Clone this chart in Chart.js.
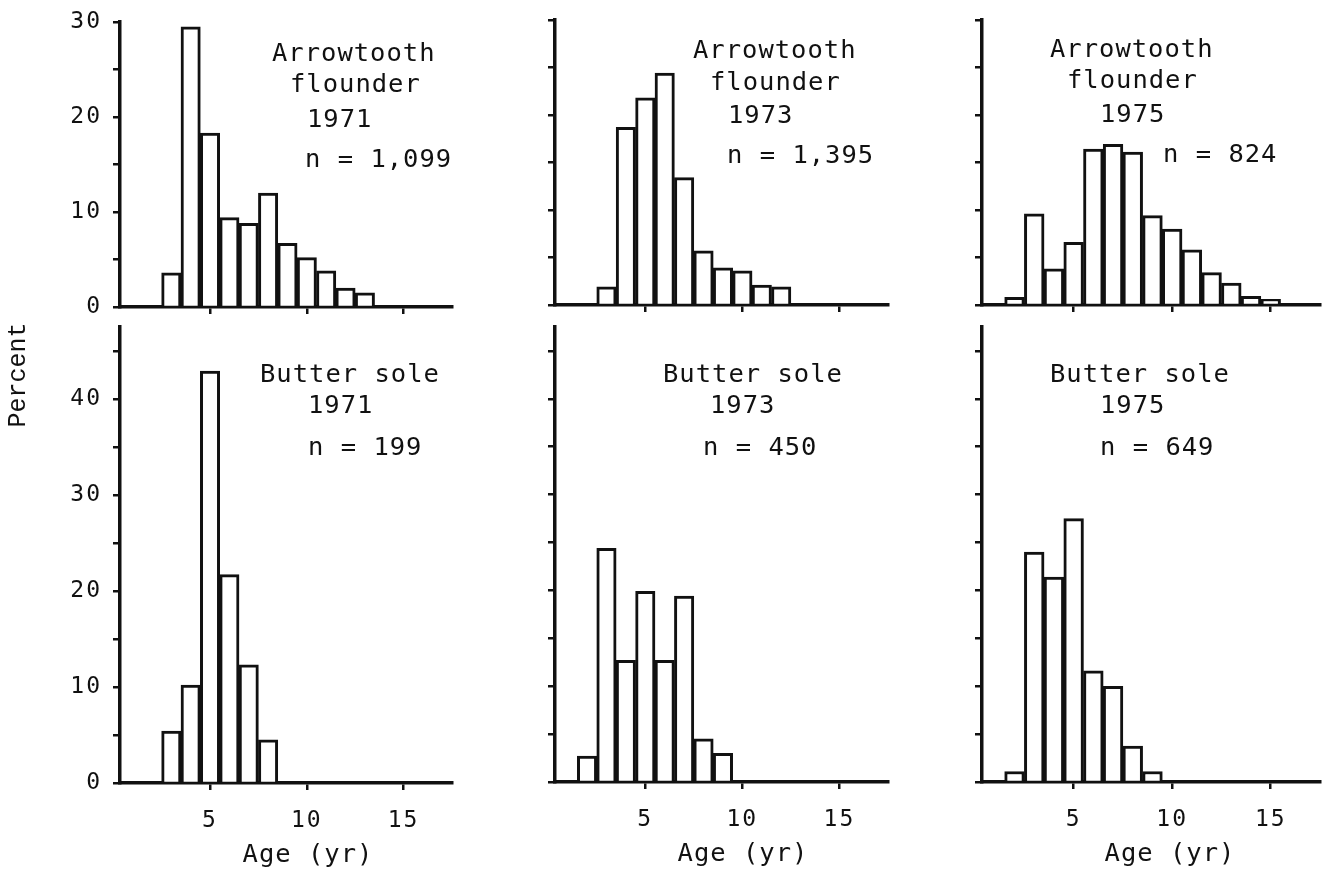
<!DOCTYPE html>
<html>
<head>
<meta charset="utf-8">
<title>Age composition - Arrowtooth flounder and Butter sole</title>
<script src="https://cdn.jsdelivr.net/npm/chart.js@4/dist/chart.umd.min.js"></script>
<style>
  body { margin: 0; background: #fff; }
  #page { position: relative; width: 1333px; height: 874px; overflow: hidden; }
  #page canvas { position: absolute; }
</style>
</head>
<body>
<div id="page"></div>
<script>
// age (yr) of each bar and percent of sample
var agesArrow1971 = [3, 4, 5, 6, 7, 8, 9, 10, 11, 12, 13];
var pctArrow1971 = [3.6, 29.5, 18.3, 9.4, 8.8, 12.0, 6.7, 5.2, 3.8, 2.0, 1.5];

var agesArrow1973 = [3, 4, 5, 6, 7, 8, 9, 10, 11, 12];
var pctArrow1973 = [1.9, 18.7, 21.8, 24.4, 13.4, 5.7, 3.9, 3.6, 2.1, 1.9];

var agesArrow1975 = [2, 3, 4, 5, 6, 7, 8, 9, 10, 11, 12, 13, 14, 15];
var pctArrow1975 = [0.8, 9.6, 3.8, 6.6, 16.4, 16.9, 16.1, 9.4, 8.0, 5.8, 3.4, 2.3, 0.9, 0.6];

var agesSole1971 = [3, 4, 5, 6, 7, 8];
var pctSole1971 = [5.4, 10.2, 42.9, 21.7, 12.3, 4.5];

var agesSole1973 = [2, 3, 4, 5, 6, 7, 8, 9];
var pctSole1973 = [2.7, 24.4, 12.7, 19.9, 12.7, 19.4, 4.5, 3.0];

var agesSole1975 = [2, 3, 4, 5, 6, 7, 8, 9];
var pctSole1975 = [1.1, 24.0, 21.4, 27.5, 11.6, 10.0, 3.75, 1.1];

// tick values
var xTicks = [5, 10, 15];
var yTicksTop = [0, 5, 10, 15, 20, 25, 30];
var yTicksBottom = [0, 5, 10, 15, 20, 25, 30, 35, 40, 45];

var INK = '#111';
var MONO = '"DejaVu Sans Mono", monospace';

var panels = [
    { row: 0, col: 0, ages: agesArrow1971, pct: pctArrow1971, yMax: 30, yTicks: yTicksTop,
      area: { left: 120, top: 22, right: 452, bottom: 307 },
      lines: [["Arrowtooth", 152, 39], ["flounder", 170, 70], ["1971", 187, 105], ["n = 1,099", 185, 145]] },
    { row: 0, col: 1, ages: agesArrow1973, pct: pctArrow1973, yMax: 30, yTicks: yTicksTop,
      area: { left: 555, top: 20, right: 888, bottom: 305 },
      lines: [["Arrowtooth", 138, 38], ["flounder", 155, 70], ["1973", 173, 103], ["n = 1,395", 172, 143]] },
    { row: 0, col: 2, ages: agesArrow1975, pct: pctArrow1975, yMax: 30, yTicks: yTicksTop,
      area: { left: 982, top: 20, right: 1320, bottom: 305 },
      lines: [["Arrowtooth", 68, 37], ["flounder", 85, 68], ["1975", 118, 102], ["n = 824", 181, 142]] },
    { row: 1, col: 0, ages: agesSole1971, pct: pctSole1971, yMax: 47.5, yTicks: yTicksBottom,
      area: { left: 120, top: 327, right: 452, bottom: 783 },
      lines: [["Butter sole", 140, 55], ["1971", 188, 86], ["n = 199", 188, 128]] },
    { row: 1, col: 1, ages: agesSole1973, pct: pctSole1973, yMax: 47.5, yTicks: yTicksBottom,
      area: { left: 555, top: 327, right: 888, bottom: 782 },
      lines: [["Butter sole", 108, 55], ["1973", 155, 86], ["n = 450", 148, 128]] },
    { row: 1, col: 2, ages: agesSole1975, pct: pctSole1975, yMax: 47.5, yTicks: yTicksBottom,
      area: { left: 982, top: 327, right: 1320, bottom: 782 },
      lines: [["Butter sole", 68, 55], ["1975", 118, 86], ["n = 649", 118, 128]] }
];

// typewriter look: a bit of extra spacing between letters
var spacingPlugin = {
    id: 'spacing',
    beforeDraw: function (chart) {
        chart.ctx.letterSpacing = '2px';
    }
};

function makeTextPlugin(p) {
    return {
        id: 'panelText',
        afterDraw: function (chart) {
            var ctx = chart.ctx;
            var a = chart.chartArea;
            ctx.save();
            ctx.fillStyle = INK;
            ctx.letterSpacing = '1px';
            ctx.font = '25.5px ' + MONO;
            ctx.textAlign = 'left';
            ctx.textBaseline = 'alphabetic';
            p.lines.forEach(function (l) {
                ctx.fillText(l[0], a.left + l[1], a.top + l[2]);
            });
            if (p.row == 1) {
                ctx.textAlign = 'center';
                ctx.fillText('Age (yr)', a.left + 188, a.bottom + 79);
            }
            if (p.row == 1 && p.col == 0) {
                ctx.translate(a.left - 102, a.top + 48);
                ctx.rotate(-Math.PI / 2);
                ctx.font = '25px "Liberation Mono", monospace';
                ctx.letterSpacing = '0px';
                ctx.textAlign = 'center';
                ctx.textBaseline = 'middle';
                ctx.fillText('Percent', 0, 0);
            }
            ctx.restore();
        }
    };
}

function makePanel(p) {
    var yW = p.col == 0 ? 120 : 60;
    // room above/below the plot must cover half a tick label plus its padding
    var padTop = 30;
    var padRight = 12;
    var xH = p.row == 1 ? 874 - p.area.bottom : 30;
    var w = yW + (p.area.right - p.area.left) + padRight;
    var h = padTop + (p.area.bottom - p.area.top) + xH;

    var canvas = document.createElement('canvas');
    canvas.width = w;
    canvas.height = h;
    canvas.style.left = (p.area.left - yW) + 'px';
    canvas.style.top = (p.area.top - padTop) + 'px';
    canvas.style.width = w + 'px';
    canvas.style.height = h + 'px';
    document.getElementById('page').appendChild(canvas);

    var points = p.ages.map(function (age, i) {
        return { x: age, y: p.pct[i] };
    });

    new Chart(canvas.getContext('2d'), {
        type: 'bar',
        data: {
            datasets: [{
                data: points,
                backgroundColor: '#fff',
                borderColor: INK,
                borderWidth: 3,
                barPercentage: 1,
                categoryPercentage: 1
            }]
        },
        options: {
            responsive: false,
            animation: false,
            devicePixelRatio: 1,
            layout: { padding: { top: padTop, right: padRight, left: 0, bottom: 0 }, autoPadding: false },
            plugins: { legend: { display: false }, tooltip: { enabled: false } },
            scales: {
                x: {
                    type: 'linear',
                    min: 0.35,
                    max: 17.5,
                    offset: false,
                    z: 1,
                    grid: { offset: false, drawOnChartArea: false, tickLength: 7, color: INK, lineWidth: 2.5 },
                    border: { color: INK, width: 3.5 },
                    ticks: {
                        display: p.row == 1,
                        color: INK,
                        padding: 17,
                        maxRotation: 0,
                        font: { family: MONO, size: 23 }
                    },
                    afterBuildTicks: function (s) {
                        s.ticks = xTicks.map(function (v) { return { value: v }; });
                    },
                    afterFit: function (s) { s.height = xH; }
                },
                y: {
                    min: 0,
                    max: p.yMax,
                    z: 1,
                    grid: { drawOnChartArea: false, tickLength: 7, color: INK, lineWidth: 2.5 },
                    border: { color: INK, width: 3.5 },
                    ticks: {
                        display: p.col == 0,
                        color: INK,
                        padding: 11,
                        font: { family: MONO, size: 23 },
                        callback: function (v) { return v % 10 == 0 ? v : ''; }
                    },
                    afterBuildTicks: function (s) {
                        s.ticks = p.yTicks.map(function (v) { return { value: v }; });
                    },
                    afterFit: function (s) { s.width = yW; }
                }
            }
        },
        plugins: [spacingPlugin, makeTextPlugin(p)]
    });
}

panels.forEach(makePanel);
</script>
</body>
</html>
